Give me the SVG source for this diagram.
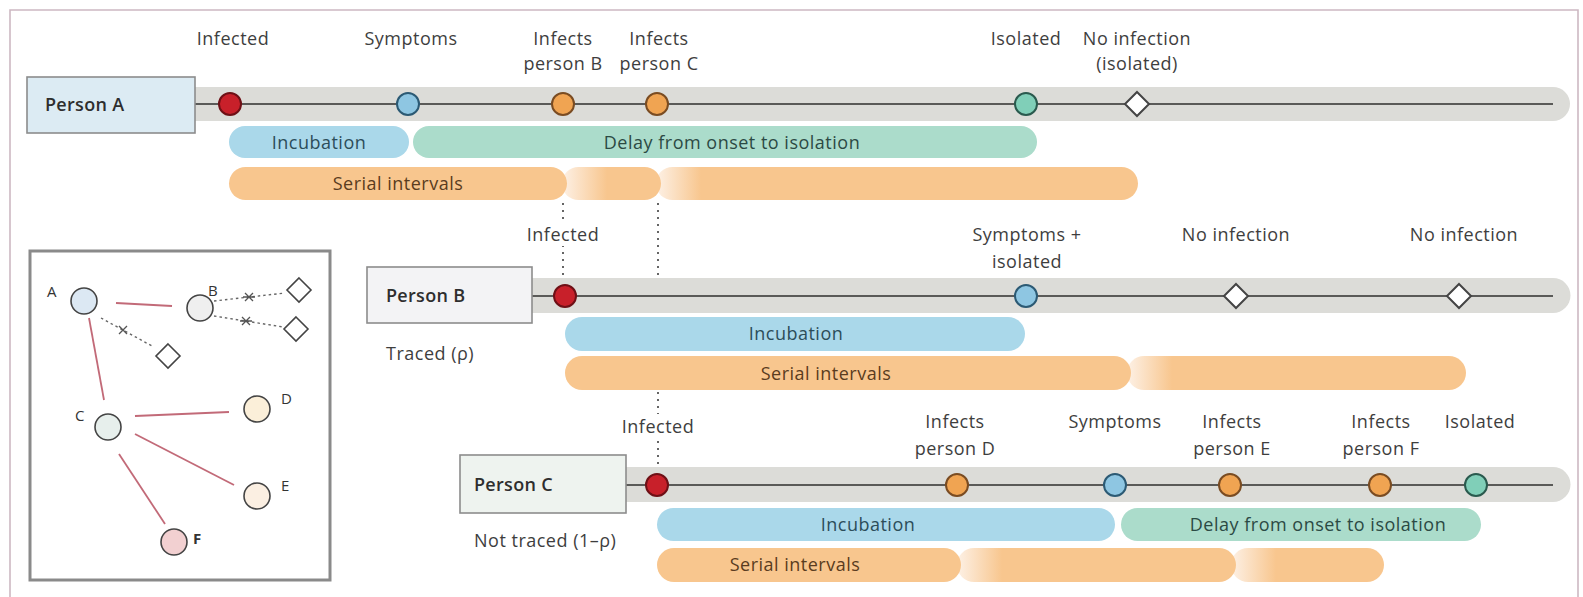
<svg xmlns="http://www.w3.org/2000/svg" width="1583" height="597" viewBox="0 0 1583 597">
  <style>
    .lbl { font-family: "Open Sans", "Noto Sans", sans-serif; font-size: 18px; letter-spacing: 0.5px; fill: #3e3e3e; text-anchor: middle; }
    .pname { font-family: "Open Sans", "Noto Sans", sans-serif; font-size: 18px; letter-spacing: 0.3px; font-weight: 600; fill: #2e2e2e; }
    .note { font-family: "Open Sans", "Noto Sans", sans-serif; font-size: 18px; letter-spacing: 0.5px; fill: #3e3e3e; }
    .bartxt { font-family: "Open Sans", "Noto Sans", sans-serif; font-size: 18px; letter-spacing: 0.5px; text-anchor: middle; }
    .band { fill: #dcdcd8; }
    .axis { stroke: #5a5a58; stroke-width: 2; }
    .pbox { stroke: #8c8c8c; stroke-width: 1.6; }
    .ev { stroke-width: 2; }
    .red { fill: #c8202a; stroke: #6e1016; }
    .blue { fill: #8ec6e2; stroke: #2c5a74; }
    .orange { fill: #f0a452; stroke: #7a4c22; }
    .teal { fill: #80cfb8; stroke: #2a5a4e; }
    .none { fill: #ffffff; stroke: #444444; stroke-width: 2; }
    .inc { fill: #aad8ea; }
    .delay { fill: #abdccb; }
    .serial { fill: #f8c68e; }
    .guide { stroke: #555555; stroke-width: 1.8; stroke-dasharray: 2 5; fill: none; }
    .edge { stroke: #c26a78; stroke-width: 1.8; fill: none; }
    .noedge { stroke: #666666; stroke-width: 1.4; stroke-dasharray: 2.5 3; fill: none; }
    .cross { stroke: #555555; stroke-width: 1.3; fill: none; }
    .mini { stroke: #444444; stroke-width: 1.6; }
    .mlbl { font-family: "Open Sans", "Noto Sans", sans-serif; font-size: 15px; fill: #333333; }
  </style>
  <defs>
    <!-- fade-in for continued serial-interval segments, in each segment's local space -->
    <linearGradient id="fade" gradientUnits="userSpaceOnUse" x1="0" y1="0" x2="45" y2="0">
      <stop offset="0" stop-color="#fdf1e6"/>
      <stop offset="1" stop-color="#f8c68e"/>
    </linearGradient>
  </defs>

  <rect width="1583" height="597" fill="#ffffff"/>
  <!-- outer frame -->
  <path d="M10 597 V10 H1578 V597" fill="none" stroke="#cdb8c2" stroke-width="1.6"/>

  <!-- connectors: dotted guides linking infection events between timelines -->
  <g id="connectors">
    <line class="guide" x1="563" y1="203" x2="563" y2="285"/>
    <line class="guide" x1="658" y1="203" x2="658" y2="278"/>
    <line class="guide" x1="658" y1="392" x2="658" y2="472"/>
  </g>

  <!-- Person A timeline -->
  <g id="personA">
    <path class="band" d="M195 87 H1553 A17 17 0 0 1 1553 121 H195 Z"/>
    <line class="axis" x1="195" y1="104" x2="1553" y2="104"/>
    <rect class="pbox" x="27" y="77" width="168" height="56" fill="#dcebf3"/>
    <text class="pname" x="45" y="111">Person A</text>
    <text class="lbl" x="233" y="45">Infected</text>
    <text class="lbl" x="411" y="45">Symptoms</text>
    <text class="lbl" x="563" y="45">Infects</text>
    <text class="lbl" x="563" y="70">person B</text>
    <text class="lbl" x="659" y="45">Infects</text>
    <text class="lbl" x="659" y="70">person C</text>
    <text class="lbl" x="1026" y="45">Isolated</text>
    <text class="lbl" x="1137" y="45">No infection</text>
    <text class="lbl" x="1137" y="70">(isolated)</text>
    <circle class="ev red" cx="230" cy="104" r="11"/>
    <circle class="ev blue" cx="408" cy="104" r="11"/>
    <circle class="ev orange" cx="563" cy="104" r="11"/>
    <circle class="ev orange" cx="657" cy="104" r="11"/>
    <circle class="ev teal" cx="1026" cy="104" r="11"/>
    <path class="none" d="M1137 92 L1149 104 L1137 116 L1125 104 Z"/>
    <rect class="inc" x="229" y="126" width="180" height="32" rx="16"/>
    <text class="bartxt" x="319" y="149" fill="#2c4d5a">Incubation</text>
    <rect class="delay" x="413" y="126" width="624" height="32" rx="16"/>
    <text class="bartxt" x="732" y="149" fill="#2b4a44">Delay from onset to isolation</text>
    <g transform="translate(656 167)"><rect x="0" y="0" width="482" height="33" rx="16.5" fill="url(#fade)"/></g>
    <g transform="translate(562 167)"><rect x="0" y="0" width="99" height="33" rx="16.5" fill="url(#fade)"/></g>
    <rect class="serial" x="229" y="167" width="338" height="33" rx="16.5"/>
    <text class="bartxt" x="398" y="190" fill="#5a3c20">Serial intervals</text>
  </g>

  <!-- Person B timeline -->
  <g id="personB">
    <path class="band" d="M532 278 H1553 A17.5 17.5 0 0 1 1553 313 H532 Z"/>
    <line class="axis" x1="532" y1="296" x2="1553" y2="296"/>
    <rect class="pbox" x="367" y="267" width="165" height="56" fill="#f3f3f5"/>
    <text class="pname" x="386" y="302">Person B</text>
    <text class="note" x="386" y="360">Traced (ρ)</text>
    <rect x="530" y="222" width="66" height="24" fill="#ffffff"/>
    <text class="lbl" x="563" y="241">Infected</text>
    <text class="lbl" x="1027" y="241">Symptoms +</text>
    <text class="lbl" x="1027" y="268">isolated</text>
    <text class="lbl" x="1236" y="241">No infection</text>
    <text class="lbl" x="1464" y="241">No infection</text>
    <circle class="ev red" cx="565" cy="296" r="11"/>
    <circle class="ev blue" cx="1026" cy="296" r="11"/>
    <path class="none" d="M1236 284 L1248 296 L1236 308 L1224 296 Z"/>
    <path class="none" d="M1459 284 L1471 296 L1459 308 L1447 296 Z"/>
    <rect class="inc" x="565" y="317" width="460" height="34" rx="17"/>
    <text class="bartxt" x="796" y="340" fill="#2c4d5a">Incubation</text>
    <g transform="translate(1127 356)"><rect x="0" y="0" width="339" height="34" rx="17" fill="url(#fade)"/></g>
    <rect class="serial" x="565" y="356" width="566" height="34" rx="17"/>
    <text class="bartxt" x="826" y="380" fill="#5a3c20">Serial intervals</text>
  </g>

  <!-- Person C timeline -->
  <g id="personC">
    <path class="band" d="M626 467 H1553 A17.5 17.5 0 0 1 1553 502 H626 Z"/>
    <line class="axis" x1="626" y1="485" x2="1553" y2="485"/>
    <rect class="pbox" x="460" y="455" width="166" height="58" fill="#eef3ef"/>
    <text class="pname" x="474" y="491">Person C</text>
    <text class="note" x="474" y="547">Not traced (1–ρ)</text>
    <rect x="624" y="414" width="68" height="24" fill="#ffffff"/>
    <text class="lbl" x="658" y="433">Infected</text>
    <text class="lbl" x="955" y="428">Infects</text>
    <text class="lbl" x="955" y="455">person D</text>
    <text class="lbl" x="1115" y="428">Symptoms</text>
    <text class="lbl" x="1232" y="428">Infects</text>
    <text class="lbl" x="1232" y="455">person E</text>
    <text class="lbl" x="1381" y="428">Infects</text>
    <text class="lbl" x="1381" y="455">person F</text>
    <text class="lbl" x="1480" y="428">Isolated</text>
    <circle class="ev red" cx="657" cy="485" r="11"/>
    <circle class="ev orange" cx="957" cy="485" r="11"/>
    <circle class="ev blue" cx="1115" cy="485" r="11"/>
    <circle class="ev orange" cx="1230" cy="485" r="11"/>
    <circle class="ev orange" cx="1380" cy="485" r="11"/>
    <circle class="ev teal" cx="1476" cy="485" r="11"/>
    <rect class="inc" x="657" y="508" width="458" height="33" rx="16.5"/>
    <text class="bartxt" x="868" y="531" fill="#2c4d5a">Incubation</text>
    <rect class="delay" x="1121" y="508" width="360" height="33" rx="16.5"/>
    <text class="bartxt" x="1318" y="531" fill="#2b4a44">Delay from onset to isolation</text>
    <g transform="translate(1231 548)"><rect x="0" y="0" width="153" height="34" rx="17" fill="url(#fade)"/></g>
    <g transform="translate(957 548)"><rect x="0" y="0" width="279" height="34" rx="17" fill="url(#fade)"/></g>
    <rect class="serial" x="657" y="548" width="304" height="34" rx="17"/>
    <text class="bartxt" x="795" y="571" fill="#5a3c20">Serial intervals</text>
  </g>

  <!-- transmission tree inset -->
  <g id="tree">
    <rect x="30" y="251" width="300" height="329" fill="#ffffff" stroke="#8a8a8a" stroke-width="3"/>
    <line class="edge" x1="116" y1="303" x2="172" y2="306"/>
    <line class="edge" x1="89" y1="318" x2="104" y2="400"/>
    <line class="edge" x1="135" y1="416" x2="229" y2="412"/>
    <line class="edge" x1="135" y1="434" x2="234" y2="485"/>
    <line class="edge" x1="119" y1="454" x2="165" y2="524"/>
    <line class="noedge" x1="101" y1="318" x2="152" y2="346"/>
    <line class="noedge" x1="214" y1="301" x2="285" y2="293"/>
    <line class="noedge" x1="214" y1="316" x2="283" y2="327"/>
    <path class="cross" d="M119 326 L127 334 M127 326 L119 334"/>
    <path class="cross" d="M245 293 L253 301 M253 293 L245 301 M243 297 H255"/>
    <path class="cross" d="M242 317 L250 325 M250 317 L242 325 M240 321 H252"/>
    <circle class="mini" cx="84" cy="301" r="13" fill="#dce8f3"/>
    <circle class="mini" cx="200" cy="308" r="13" fill="#efefef"/>
    <circle class="mini" cx="108" cy="427" r="13" fill="#e7efec"/>
    <circle class="mini" cx="257" cy="409" r="13" fill="#fbefd9"/>
    <circle class="mini" cx="257" cy="496" r="13" fill="#fbefe2"/>
    <circle class="mini" cx="174" cy="542" r="13" fill="#f2d0d1"/>
    <path class="mini" d="M299 278 L311 290 L299 302 L287 290 Z" fill="#ffffff"/>
    <path class="mini" d="M296 317 L308 329 L296 341 L284 329 Z" fill="#ffffff"/>
    <path class="mini" d="M168 344 L180 356 L168 368 L156 356 Z" fill="#ffffff"/>
    <text class="mlbl" x="47" y="297">A</text>
    <text class="mlbl" x="208" y="296">B</text>
    <text class="mlbl" x="75" y="421">C</text>
    <text class="mlbl" x="281" y="404">D</text>
    <text class="mlbl" x="281" y="491">E</text>
    <text class="mlbl" x="193" y="544" font-weight="bold">F</text>
  </g>
</svg>
